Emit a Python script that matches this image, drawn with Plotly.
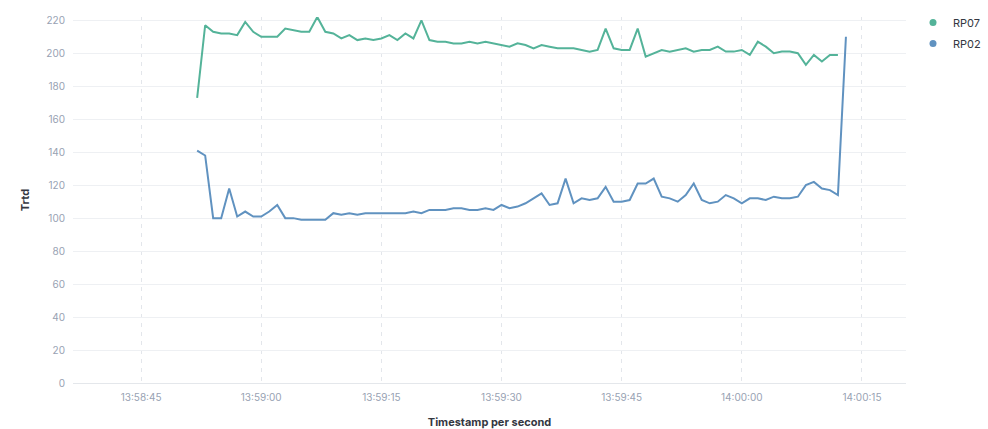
import pandas as pd
import plotly.graph_objects as go

start_time = "2024-01-01 13:58:52"

rp07 = [173, 217, 213, 212, 212, 211, 219, 213, 210, 210,
        210, 215, 214, 213, 213, 222, 213, 212, 209, 211,
        208, 209, 208, 209, 211, 208, 212, 209, 220, 208,
        207, 207, 206, 206, 207, 206, 207, 206, 205, 204,
        206, 205, 203, 205, 204, 203, 203, 203, 202, 201,
        202, 215, 203, 202, 202, 215, 198, 200, 202, 201,
        202, 203, 201, 202, 202, 204, 201, 201, 202, 199,
        207, 204, 200, 201, 201, 200, 193, 199, 195, 199,
        199]

rp02 = [141, 138, 100, 100, 118, 101, 104, 101, 101, 104,
        108, 100, 100, 99, 99, 99, 99, 103, 102, 103,
        102, 103, 103, 103, 103, 103, 103, 104, 103, 105,
        105, 105, 106, 106, 105, 105, 106, 105, 108, 106,
        107, 109, 112, 115, 108, 109, 124, 109, 112, 111,
        112, 119, 110, 110, 111, 121, 121, 124, 113, 112,
        110, 114, 121, 111, 109, 110, 114, 112, 109, 112,
        112, 111, 113, 112, 112, 113, 120, 122, 118, 117,
        114, 210]

series_names = ["RP07", "RP02"]
series_colors = ["#54B399", "#6092C0"]

t07 = pd.date_range(start_time, periods=len(rp07), freq="1s")
t02 = pd.date_range(start_time, periods=len(rp02), freq="1s")

fig = go.Figure()
fig.add_trace(go.Scatter(x=t07, y=rp07, mode="lines", name=series_names[0],
                         line=dict(color=series_colors[0], width=2), showlegend=False))
fig.add_trace(go.Scatter(x=t02, y=rp02, mode="lines", name=series_names[1],
                         line=dict(color=series_colors[1], width=2), showlegend=False))
for n, c in zip(series_names, series_colors):
    fig.add_trace(go.Scatter(x=[None], y=[None], mode="markers", name=n, legendgroup=n,
                             marker=dict(color=c, size=7, symbol="circle")))

fig.update_layout(
    width=988, height=429,
    margin=dict(l=73, r=82, t=17, b=46, autoexpand=False),
    paper_bgcolor="white", plot_bgcolor="white",
    font=dict(family="Inter, Roboto, sans-serif", size=10, color="#98A2B3"),
    legend=dict(xref="container", yref="container", x=913 / 988, y=1 - 8 / 429,
                xanchor="left", yanchor="top",
                font=dict(size=11, color="#343741"), itemsizing="trace",
                tracegroupgap=2, itemwidth=30),
    showlegend=True,
)
fig.update_xaxes(
    type="date", automargin=False,
    range=["2024-01-01 13:58:36.5", "2024-01-01 14:00:20.5"],
    tick0="2024-01-01 13:58:45", dtick=15000, tickformat="%H:%M:%S",
    showgrid=True, gridcolor="#E3E6EB", griddash="4px,5px", gridwidth=1,
    showline=True, linecolor="#E4E7EB", linewidth=1,
    ticks="", ticklen=0, ticklabelstandoff=5,
    title=dict(text="<b>Timestamp per second</b>", font=dict(size=11, color="#343741"), standoff=16),
    zeroline=False,
)
fig.update_yaxes(
    range=[0, 222], tick0=0, dtick=20, automargin=False,
    showgrid=True, gridcolor="#EEF0F3", gridwidth=1,
    showline=False, zeroline=False, ticks="", ticklabelstandoff=7,
    title=dict(text="<b>Trtd</b>", font=dict(size=11, color="#343741"), standoff=14),
)

fig.write_html("out.html", config={"displayModeBar": False},
               post_script="document.body.style.margin='0';document.body.style.overflow='hidden';")
